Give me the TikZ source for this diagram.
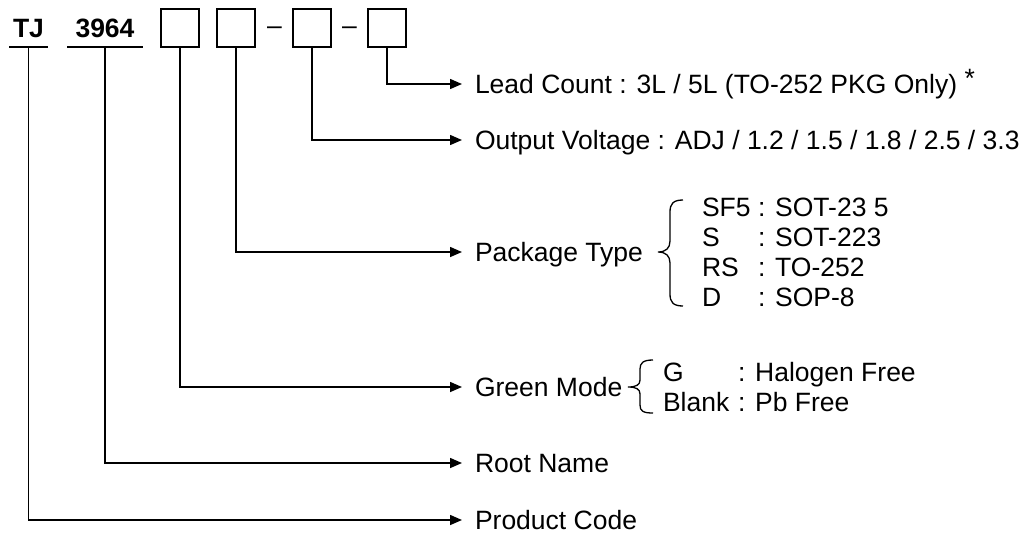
\documentclass[tikz,border=0pt]{standalone}
\usepackage{fontspec}
\setmainfont{Liberation Sans}
\usetikzlibrary{arrows.meta}
\newcommand\dfont{\fontsize{26.5pt}{30pt}\selectfont}
\begin{document}
\begin{tikzpicture}[x=1pt,y=-1pt,
  line/.style={line width=1.5pt},
  conn/.style={line width=1.5pt,-{Triangle[length=12pt,width=10pt]},shorten >=13pt},
  box/.style={draw,line width=1.5pt,minimum size=38pt,inner sep=0pt},
  part/.style={font=\dfont\bfseries,text height=19pt,text depth=0pt,inner xsep=0pt,inner ysep=10pt,outer sep=0pt,anchor=south},
  lbl/.style={anchor=west,inner sep=0pt,outer sep=0pt,text height=19pt,text depth=0pt,font=\dfont},
  dashnode/.style={anchor=base,inner sep=0pt,font=\dfont}]
\useasboundingbox (0,0) rectangle (1027,536);
% part number
\node[part,minimum width=39pt] (tj) at (28.5,47) {TJ};
\node[part,minimum width=76pt] (root) at (105,47) {3964};
\draw[line] (tj.south west) -- (tj.south east);
\draw[line] (root.south west) -- (root.south east);
\node[box] (b1) at (180,28) {};
\node[box] (b2) at (236,28) {};
\node[dashnode] (d1) at (274.5,34) {–};
\node[box] (b3) at (312,28) {};
\node[dashnode] (d2) at (349.5,34) {–};
\node[box] (b4) at (387,28) {};
% labels
\node[lbl] (lead) at (475,84) {Lead Count : 3L / 5L (TO-252 PKG Only) \raisebox{6pt}{*}};
\node[lbl] (out) at (475,140) {Output Voltage : ADJ / 1.2 / 1.5 / 1.8 / 2.5 / 3.3};
\node[lbl] (pkg) at (475,252) {Package Type};
\node[lbl] (green) at (475,387) {Green Mode};
\node[lbl] (rname) at (475,463) {Root Name};
\node[lbl] (pcode) at (475,520) {Product Code};
% package items
\node[lbl] (k1) at (702,207) {SF5};
\node[lbl] (v1) at (758,207) {: SOT-23 5};
\node[lbl] (k2) at (702,237) {S};
\node[lbl] (v2) at (758,237) {: SOT-223};
\node[lbl] (k3) at (702,267) {RS};
\node[lbl] (v3) at (758,267) {: TO-252};
\node[lbl] (k4) at (702,297) {D};
\node[lbl] (v4) at (758,297) {: SOP-8};
% green items
\node[lbl] (g1) at (663,372) {G};
\node[lbl] (gv1) at (738,372) {: Halogen Free};
\node[lbl] (g2) at (663,402) {Blank};
\node[lbl] (gv2) at (738,402) {: Pb Free};
% braces
\draw[line,line width=1.3pt] (683,200) .. controls (673,200) and (670,204) .. (670,212) -- (670,241) .. controls (670,248) and (666,252) .. (658,252) .. controls (666,252) and (670,256) .. (670,263) -- (670,294) .. controls (670,302) and (673,306) .. (683,306);
\draw[line,line width=1.3pt] (653,360) .. controls (643,360) and (640,363) .. (640,369) -- (640,380) .. controls (640,385) and (636,387) .. (628,387) .. controls (636,387) and (640,389) .. (640,394) -- (640,405) .. controls (640,411) and (643,413) .. (653,413);
% connectors
\draw[conn] (b4.south) |- (lead.west);
\draw[conn] (b3.south) |- (out.west);
\draw[conn] (b2.south) |- (pkg.west);
\draw[conn] (b1.south) |- (green.west);
\draw[conn] (root.south) |- (rname.west);
\draw[conn] (tj.south) |- (pcode.west);
\end{tikzpicture}
\end{document}
